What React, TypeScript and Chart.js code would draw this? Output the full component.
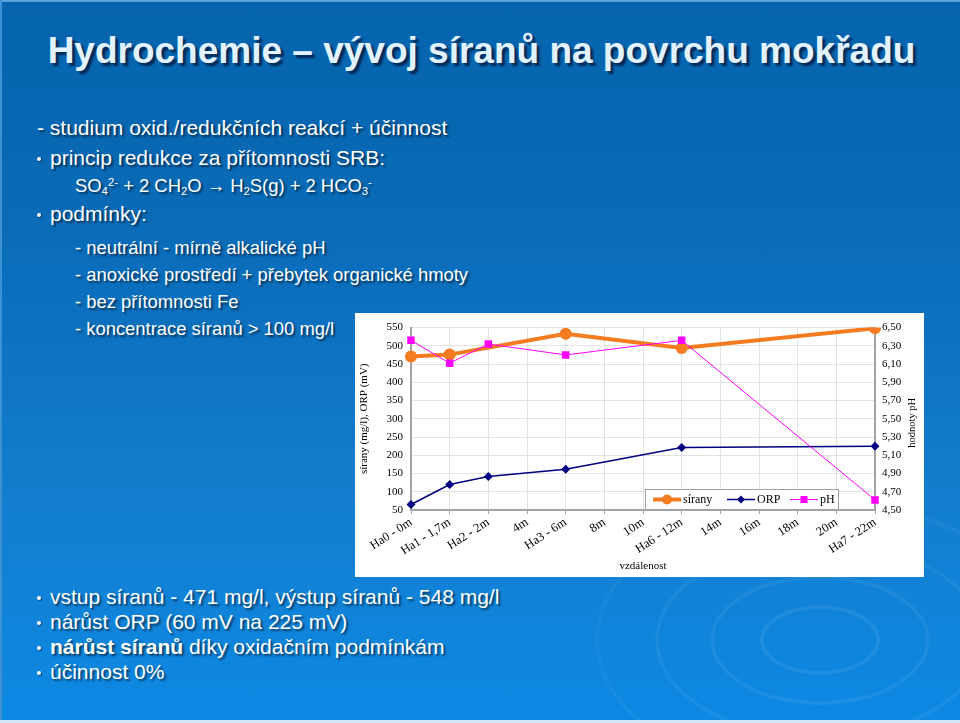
import React, { useEffect, useRef } from 'react';
import { Chart, registerables } from 'chart.js';

Chart.register(...registerables);

// ---- data ----
const categories = [
  'Ha0 - 0m', 'Ha1 - 1,7m', 'Ha2 - 2m', '4m', 'Ha3 - 6m', '8m', '10m',
  'Ha6 - 12m', '14m', '16m', '18m', '20m', 'Ha7 - 22m',
];
const siranyValues = [471, 476, null, null, 533, null, null, 494, null, null, null, null, 548];
const orpValues = [65, 120, 142, null, 162, null, null, 221, null, null, null, null, 225];
const phValues = [6.36, 6.11, 6.32, null, 6.2, null, null, 6.36, null, null, null, null, 4.61];
const seriesNames = ['sírany', 'ORP', 'pH'];
const leftAxisRange = [50, 550, 50];
const rightAxisRange = [4.5, 6.5, 0.2];
const leftAxisTitle = 'sírany (mg/l), ORP (mV)';
const rightAxisTitle = 'hodnoty pH';
const xAxisTitle = 'vzdálenost';

const ORANGE = '#F47B20';
const NAVY = '#000080';
const MAGENTA = '#FF00FF';
const AXIS = '#a3a3a3';
const GRID = '#e2e2e2';
const SERIF = '"Liberation Serif", "Times New Roman", serif';
const SANS = '"Liberation Sans", Arial, sans-serif';

const insetLegend = {
  id: 'insetLegend',
  afterDraw(chart: any) {
    const { ctx, chartArea } = chart;
    const w = 193;
    const h = 20;
    const x = Math.round(chartArea.right - 37 - w);
    const y = Math.round(chartArea.bottom - 1 - h);
    ctx.save();
    ctx.fillStyle = '#ffffff';
    ctx.fillRect(x, y, w, h);
    ctx.strokeStyle = '#a0a0a0';
    ctx.lineWidth = 1;
    ctx.strokeRect(x + 0.5, y + 0.5, w, h);
    const cy = y + h / 2 + 0.5;
    const starts = [8, 82, 145];
    chart.data.datasets.forEach((ds: any, i: number) => {
      const lx = x + starts[i];
      ctx.strokeStyle = ds.borderColor;
      ctx.lineWidth = ds.borderWidth;
      ctx.beginPath();
      ctx.moveTo(lx, cy);
      ctx.lineTo(lx + 28, cy);
      ctx.stroke();
      ctx.fillStyle = ds.borderColor;
      const mx = lx + 14;
      ctx.beginPath();
      if (ds.pointStyle === 'circle') {
        ctx.arc(mx, cy, 5, 0, Math.PI * 2);
      } else if (ds.pointStyle === 'rectRot') {
        ctx.moveTo(mx - 4, cy);
        ctx.lineTo(mx, cy - 4);
        ctx.lineTo(mx + 4, cy);
        ctx.lineTo(mx, cy + 4);
        ctx.closePath();
      } else {
        ctx.rect(mx - 3.5, cy - 3.5, 7, 7);
      }
      ctx.fill();
      ctx.fillStyle = '#000';
      ctx.font = `12px ${SERIF}`;
      ctx.textBaseline = 'middle';
      ctx.textAlign = 'left';
      ctx.fillText(ds.label, lx + 30, cy);
    });
    // right axis title, reading bottom-to-top
    ctx.translate(chart.width - 12, (chartArea.top + chartArea.bottom) / 2 + 4);
    ctx.rotate(-Math.PI / 2);
    ctx.font = `10.5px ${SERIF}`;
    ctx.fillStyle = '#000';
    ctx.textAlign = 'center';
    ctx.textBaseline = 'middle';
    ctx.fillText(rightAxisTitle, 0, 0);
    ctx.restore();
  },
};

function TextLine({ x, baseline, size = 21, children, bullet = false }: any) {
  const top = baseline - 0.8465 * size;
  return (
    <>
      {bullet && (
        <div
          style={{
            position: 'absolute',
            left: 37,
            top: baseline - 8,
            width: 4,
            height: 4,
            borderRadius: '50%',
            background: '#ffffff',
            boxShadow: '1px 1px 1px rgba(0,0,0,0.5)',
          }}
        />
      )}
      <div
        style={{
          position: 'absolute',
          left: x,
          top,
          fontSize: size,
          lineHeight: `${size}px`,
          whiteSpace: 'nowrap',
          color: '#ffffff',
          fontFamily: SANS,
          textShadow: '2px 2px 2px rgba(0,0,0,0.55)',
        }}
      >
        {children}
      </div>
    </>
  );
}

const sub: any = { fontSize: '0.62em', verticalAlign: '-0.3em', lineHeight: 0 };
const sup: any = { fontSize: '0.62em', verticalAlign: '0.55em', lineHeight: 0 };
const SUBSIZE = 18.4;

export default function App() {
  const canvasRef = useRef<HTMLCanvasElement>(null);

  useEffect(() => {
    const tickFont = { family: SERIF, size: 11 };
    const chart = new Chart(canvasRef.current as HTMLCanvasElement, {
      type: 'line',
      data: {
        labels: categories,
        datasets: [
          {
            label: seriesNames[0],
            data: siranyValues,
            borderColor: ORANGE,
            backgroundColor: ORANGE,
            pointBackgroundColor: ORANGE,
            pointBorderColor: ORANGE,
            borderWidth: 4,
            pointStyle: 'circle',
            pointRadius: 6,
            pointBorderWidth: 0,
            spanGaps: true,
            yAxisID: 'y',
            order: 3,
          },
          {
            label: seriesNames[1],
            data: orpValues,
            borderColor: NAVY,
            backgroundColor: NAVY,
            pointBackgroundColor: NAVY,
            pointBorderColor: NAVY,
            borderWidth: 1.5,
            pointStyle: 'rectRot',
            pointRadius: 4.5,
            pointBorderWidth: 0,
            spanGaps: true,
            yAxisID: 'y',
            order: 2,
          },
          {
            label: seriesNames[2],
            data: phValues,
            borderColor: MAGENTA,
            backgroundColor: MAGENTA,
            pointBackgroundColor: MAGENTA,
            pointBorderColor: MAGENTA,
            borderWidth: 1,
            pointStyle: 'rect',
            pointRadius: 5.3,
            pointBorderWidth: 0,
            spanGaps: true,
            yAxisID: 'y1',
            order: 1,
          },
        ] as any,
      },
      options: {
        responsive: false,
        animation: false,
        layout: { padding: { top: 9, left: 0, right: 0, bottom: 0 } },
        plugins: { legend: { display: false }, tooltip: { enabled: false } },
        scales: {
          x: {
            type: 'category',
            offset: false,
            grid: { color: GRID, tickColor: AXIS, tickLength: 4, tickWidth: 1 },
            border: { color: AXIS, width: 2 },
            ticks: {
              autoSkip: false,
              maxRotation: 33,
              minRotation: 33,
              color: '#000',
              font: { family: SERIF, size: 12.5 },
              padding: 1,
            },
            title: {
              display: true,
              text: xAxisTitle,
              color: '#000',
              font: { family: SERIF, size: 11 },
              padding: { top: 0, bottom: 4 },
            },
            afterFit: (s: any) => {
              s.height = 67;
            },
          },
          y: {
            position: 'left',
            min: leftAxisRange[0],
            max: leftAxisRange[1],
            grid: { color: GRID, drawTicks: false },
            border: { color: AXIS, width: 2 },
            ticks: { stepSize: leftAxisRange[2], color: '#000', font: tickFont, padding: 8 },
            title: {
              display: true,
              text: leftAxisTitle,
              color: '#000',
              font: { family: SERIF, size: 11 },
              padding: { top: 3, bottom: 0 },
            },
            afterFit: (s: any) => {
              s.width = 56;
            },
          },
          y1: {
            position: 'right',
            min: rightAxisRange[0],
            max: rightAxisRange[1],
            grid: { drawOnChartArea: false, drawTicks: false },
            border: { color: AXIS, width: 2 },
            ticks: {
              stepSize: rightAxisRange[2],
              color: '#000',
              font: tickFont,
              padding: 7,
              callback: (v: any) => Number(v).toFixed(2).replace('.', ','),
            },
            afterFit: (s: any) => {
              s.width = 49;
            },
          },
        },
      } as any,
      plugins: [insetLegend],
    });
    return () => chart.destroy();
  }, []);

  const ring = (cx: number, cy: number, rx: number, ry: number, a: number) => (
    <div
      style={{
        position: 'absolute',
        left: cx - rx,
        top: cy - ry,
        width: rx * 2,
        height: ry * 2,
        borderRadius: '50%',
        border: `4px solid rgba(255,255,255,${a})`,
        boxSizing: 'border-box',
      }}
    />
  );

  return (
    <div
      style={{
        position: 'fixed',
        left: 0,
        top: 0,
        width: 960,
        height: 723,
        overflow: 'hidden',
        background:
          'linear-gradient(180deg, #0564ad 0%, #0767b2 18%, #0d71c0 45%, #137ecf 70%, #0d89e4 100%)',
        fontFamily: SANS,
      }}
    >
      <div style={{ position: 'absolute', left: 0, top: 0, width: 960, height: 2, background: '#5aa2da' }} />
      <div style={{ position: 'absolute', left: 0, top: 0, width: 2, height: 723, background: '#3f92d2' }} />
      <div style={{ position: 'absolute', left: 0, top: 720, width: 960, height: 3, background: '#cfe7f8' }} />

      {ring(820, 640, 60, 35, 0.07)}
      {ring(820, 640, 110, 65, 0.06)}
      {ring(820, 640, 165, 100, 0.05)}
      {ring(820, 640, 225, 140, 0.04)}

      <div
        style={{
          position: 'absolute',
          left: 0,
          top: 63 - 0.8465 * 37,
          width: 963,
          textAlign: 'center',
          fontSize: 37,
          lineHeight: '37px',
          fontWeight: 'bold',
          color: '#e2f3ff',
          whiteSpace: 'nowrap',
          textShadow: '3px 3px 2px rgba(5,30,70,0.85)',
        }}
      >
        Hydrochemie – vývoj síranů na povrchu mokřadu
      </div>

      <TextLine x={37} baseline={135}>- studium oxid./redukčních reakcí + účinnost</TextLine>
      <TextLine x={50} baseline={165} bullet>princip redukce za přítomnosti SRB:</TextLine>
      <TextLine x={75} baseline={193} size={SUBSIZE}>
        SO<span style={sub}>4</span>
        <span style={sup}>2-</span> + 2 CH<span style={sub}>2</span>O → H<span style={sub}>2</span>S(g) + 2 HCO
        <span style={sub}>3</span>
        <span style={sup}>-</span>
      </TextLine>
      <TextLine x={50} baseline={221} bullet>podmínky:</TextLine>
      <TextLine x={75} baseline={255} size={SUBSIZE}>- neutrální - mírně alkalické pH</TextLine>
      <TextLine x={75} baseline={282} size={SUBSIZE}>- anoxické prostředí + přebytek organické hmoty</TextLine>
      <TextLine x={75} baseline={309} size={SUBSIZE}>- bez přítomnosti Fe</TextLine>
      <TextLine x={75} baseline={336} size={SUBSIZE}>- koncentrace síranů &gt; 100 mg/l</TextLine>

      <TextLine x={50} baseline={604} bullet>vstup síranů - 471 mg/l, výstup síranů - 548 mg/l</TextLine>
      <TextLine x={50} baseline={629} bullet>nárůst ORP (60 mV na 225 mV)</TextLine>
      <TextLine x={50} baseline={654} bullet>
        <b>nárůst síranů</b> díky oxidačním podmínkám
      </TextLine>
      <TextLine x={50} baseline={679} bullet>účinnost 0%</TextLine>

      <div
        style={{
          position: 'absolute',
          left: 355,
          top: 313,
          width: 569,
          height: 264,
          background: '#ffffff',
        }}
      >
        <canvas ref={canvasRef} width={569} height={264} style={{ display: 'block' }} />
      </div>
    </div>
  );
}
